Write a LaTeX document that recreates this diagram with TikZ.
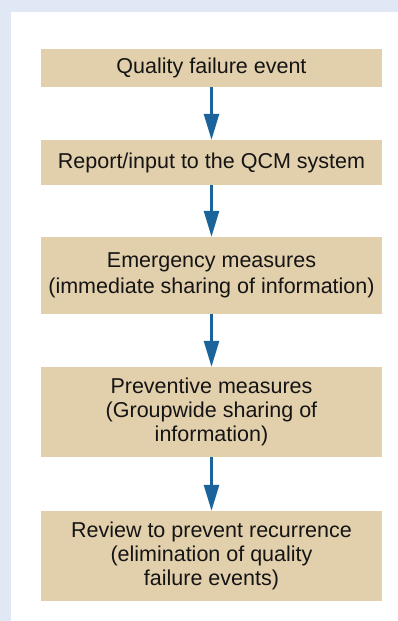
\documentclass[tikz,border=0pt]{standalone}
\usepackage{fontspec}
\setmainfont{Liberation Sans}
\usetikzlibrary{arrows.meta}
\definecolor{bgblue}{RGB}{223,232,244}
\definecolor{boxfill}{RGB}{226,207,172}
\definecolor{arrowblue}{RGB}{27,99,155}
\definecolor{textdark}{RGB}{20,20,20}
\begin{document}
\begin{tikzpicture}[x=1pt,y=-1pt,
  stepbox/.style={fill=boxfill, draw=none, minimum width=341pt, inner sep=0pt,
    align=center, font=\fontsize{21.5}{24}\selectfont, text=textdark},
  flow/.style={draw=arrowblue, line width=2.7pt, -{Triangle[length=26pt,width=15pt]}}]
\fill[bgblue] (0,0) rectangle (398,621);
\fill[white] (11,12) rectangle (398,621);
\useasboundingbox (0,0) rectangle (398,621);
\node[stepbox, minimum height=38pt] (b1) at (211.5,68) {Quality failure event};
\node[stepbox, minimum height=45pt] (b2) at (211.5,162.5) {Report/input to the QCM system};
\node[stepbox, minimum height=77pt, font=\fontsize{21.5}{26}\selectfont] (b3) at (211.5,275.5) {Emergency measures\\(immediate sharing of information)};
\node[stepbox, minimum height=90pt] (b4) at (211.5,412) {Preventive measures\\(Groupwide sharing of\\information)};
\node[stepbox, minimum height=90pt] (b5) at (211.5,556) {Review to prevent recurrence\\(elimination of quality\\failure events)};
\draw[flow] (b1.south) -- (b2.north);
\draw[flow] (b2.south) -- (b3.north);
\draw[flow] (b3.south) -- (b4.north);
\draw[flow] (b4.south) -- (b5.north);
\end{tikzpicture}
\end{document}
